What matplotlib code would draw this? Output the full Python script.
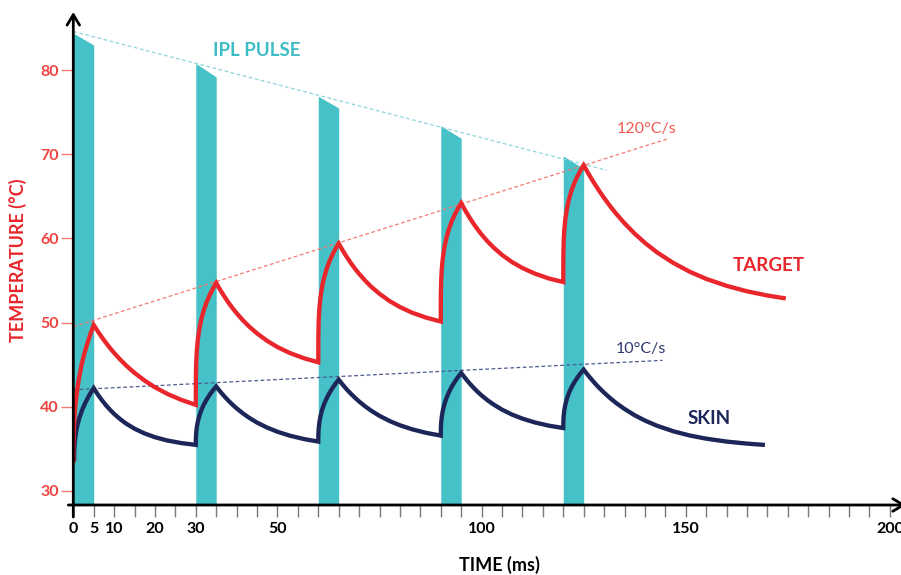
import numpy as np
import matplotlib
matplotlib.use("Agg")
import matplotlib.pyplot as plt

plt.rcParams['font.family'] = ['Lato', 'DejaVu Sans']

# ---------------- data ----------------
pulse_start = [0, 30, 60, 90, 120]
pulse_width = 5
pulse_top_left = [84.4, 80.8, 76.9, 73.4, 69.8]
pulse_top_right = [83.0, 79.2, 75.5, 71.9, 68.3]

target_t = [0, 0.02, 0.1, 0.25, 0.5, 0.9, 1.4, 2.0, 2.7, 3.5, 4.3, 5,
            6, 7, 8, 9, 10, 11.5, 13, 15, 17.5, 20, 23, 26.5, 30,
            30.02, 30.1, 30.25, 30.5, 30.9, 31.4, 32.0, 32.7, 33.5, 34.3, 35,
            36, 37, 38, 39, 40, 41.5, 43, 45, 47.5, 50, 53, 56.5, 60,
            60.02, 60.1, 60.25, 60.5, 60.9, 61.4, 62.0, 62.7, 63.5, 64.3, 65,
            66, 67, 68, 69, 70, 71.5, 73, 75, 77.5, 80, 83, 86.5, 90,
            90.02, 90.1, 90.25, 90.5, 90.9, 91.4, 92.0, 92.7, 93.5, 94.3, 95,
            96, 97, 98, 99, 100, 101.5, 103, 105, 107.5, 110, 113, 116.5, 120,
            120.02, 120.1, 120.25, 120.5, 120.9, 121.4, 122.0, 122.7, 123.5, 124.3, 125,
            126, 127, 128, 129, 130, 131.5, 133, 135, 137.5, 140, 143, 147, 151, 155,
            160, 165, 170, 174.5]
target_T = [33.3, 35.3, 37.0, 38.5, 40.1, 41.8, 43.4, 44.9, 46.3, 47.6, 48.8, 49.7,
            48.95, 48.24, 47.58, 46.96, 46.38, 45.59, 44.86, 44.01, 43.08, 42.30, 41.52, 40.79, 40.21,
            43.46, 45.25, 46.65, 47.99, 49.32, 50.48, 51.52, 52.48, 53.37, 54.12, 54.7,
            53.86, 53.09, 52.37, 51.71, 51.11, 50.28, 49.55, 48.70, 47.81, 47.08, 46.38, 45.75, 45.27,
            48.45, 50.19, 51.56, 52.86, 54.16, 55.29, 56.31, 57.24, 58.10, 58.83, 59.4,
            58.55, 57.77, 57.06, 56.39, 55.79, 54.97, 54.24, 53.41, 52.54, 51.84, 51.16, 50.57, 50.12,
            53.29, 55.02, 56.39, 57.68, 58.98, 60.10, 61.12, 62.05, 62.90, 63.64, 64.2,
            63.32, 62.51, 61.77, 61.09, 60.46, 59.62, 58.89, 58.04, 57.17, 56.48, 55.82, 55.23, 54.81,
            57.94, 59.64, 60.99, 62.27, 63.55, 64.66, 65.66, 66.57, 67.42, 68.14, 68.7,
            67.84, 67.02, 66.25, 65.51, 64.81, 63.82, 62.91, 61.80, 60.56, 59.47, 58.33, 57.07, 56.03, 55.19,
            54.36, 53.71, 53.21, 52.86]

skin_t = [0.2, 0.22, 0.30, 0.44, 0.68, 1.06, 1.54, 2.12, 2.79, 3.56, 4.33, 5.0,
          6, 7, 8, 9, 10, 11.5, 13, 15, 17.5, 20, 23, 26.5, 30,
          30.02, 30.1, 30.25, 30.5, 30.9, 31.4, 32.0, 32.7, 33.5, 34.3, 35,
          36, 37, 38, 39, 40, 41.5, 43, 45, 47.5, 50, 53, 56.5, 60,
          60.02, 60.1, 60.25, 60.5, 60.9, 61.4, 62.0, 62.7, 63.5, 64.3, 65,
          66, 67, 68, 69, 70, 71.5, 73, 75, 77.5, 80, 83, 86.5, 90,
          90.02, 90.1, 90.25, 90.5, 90.9, 91.4, 92.0, 92.7, 93.5, 94.3, 95,
          96, 97, 98, 99, 100, 101.5, 103, 105, 107.5, 110, 113, 116.5, 120,
          120.02, 120.1, 120.25, 120.5, 120.9, 121.4, 122.0, 122.7, 123.5, 124.3, 125,
          126, 127, 128, 129, 130, 131.5, 133, 135, 137.5, 140, 143, 147, 151, 155,
          160, 165, 169.4]
skin_T = [33.5, 34.46, 35.32, 36.13, 36.96, 37.88, 38.73, 39.53, 40.30, 41.04, 41.70, 42.2,
          41.44, 40.77, 40.16, 39.62, 39.13, 38.50, 37.96, 37.37, 36.80, 36.36, 35.97, 35.66, 35.45,
          36.21, 36.90, 37.55, 38.22, 38.95, 39.63, 40.27, 40.88, 41.48, 42.00, 42.4,
          41.78, 41.22, 40.70, 40.23, 39.79, 39.21, 38.69, 38.10, 37.50, 37.01, 36.55, 36.14, 35.84,
          36.65, 37.38, 38.06, 38.77, 39.55, 40.26, 40.94, 41.60, 42.22, 42.77, 43.2,
          42.59, 42.03, 41.52, 41.05, 40.61, 40.02, 39.50, 38.90, 38.28, 37.78, 37.30, 36.87, 36.55,
          37.37, 38.11, 38.80, 39.52, 40.30, 41.03, 41.71, 42.38, 43.01, 43.57, 44.0,
          43.37, 42.79, 42.26, 41.77, 41.33, 40.74, 40.23, 39.64, 39.04, 38.57, 38.12, 37.73, 37.45,
          38.21, 38.90, 39.55, 40.22, 40.95, 41.63, 42.27, 42.88, 43.48, 44.00, 44.4,
          43.77, 43.19, 42.64, 42.13, 41.66, 41.00, 40.41, 39.72, 38.97, 38.34, 37.72, 37.06, 36.56, 36.19,
          35.84, 35.60, 35.44]

pulse_trend_t = [0, 130.6]
pulse_trend_T = [84.6, 68.1]
target_trend_t = [0, 146]
target_trend_T = [49.5, 71.9]
skin_trend_t = [0, 144.3]
skin_trend_T = [42.0, 45.5]

x_ticks = list(range(0, 201, 5))
x_labeled = [0, 5, 10, 20, 30, 50, 100, 150, 200]
y_ticks = [30, 40, 50, 60, 70, 80]

# ---------------- style ----------------
TEAL = '#45C1C7'
TEAL_TXT = '#3DBDC5'
RED = '#E8262B'
RED_TICK = '#EF4440'
NAVY = '#1C2659'

W, H = 901, 575
fig = plt.figure(figsize=(W / 100, H / 100), dpi=100)
ax = fig.add_axes([73.3 / W, (H - 505) / H, (W - 73.3) / W, (505 - 12) / H])
ax.set_xlim(0, 202.72)
ax.set_ylim(28.30, 86.92)
for s in ax.spines.values():
    s.set_visible(False)

# pulses
ybot = ax.get_ylim()[0]
for s0, tl, tr in zip(pulse_start, pulse_top_left, pulse_top_right):
    ax.fill_between([s0, s0 + pulse_width], [tl, tr], ybot, color=TEAL, lw=0, zorder=1)

# trend lines
ax.plot(pulse_trend_t, pulse_trend_T, color='#8ED5DA', lw=0.9, dashes=(3, 2), zorder=2)
ax.plot(target_trend_t, target_trend_T, color='#F27A70', lw=0.9, dashes=(3, 2), zorder=2)
ax.plot(skin_trend_t, skin_trend_T, color='#4C5A90', lw=0.9, dashes=(3, 2), zorder=2)

# curves
ax.plot(skin_t, skin_T, color=NAVY, lw=3.1, solid_joinstyle='miter', solid_capstyle='butt', zorder=4)
ax.plot(target_t, target_T, color=RED, lw=3.1, solid_joinstyle='miter', solid_capstyle='butt', zorder=5)

# axes lines with arrows
arrow = dict(arrowstyle='->,head_length=0.75,head_width=0.45', lw=2, color='black',
             shrinkA=0, shrinkB=0)
ax.annotate('', xy=(0, 1), xytext=(0, -12 / 493), xycoords='axes fraction',
            arrowprops=arrow, annotation_clip=False, zorder=6)
ax.annotate('', xy=(1.006, 0), xytext=(-5 / 828, 0), xycoords='axes fraction',
            arrowprops=arrow, annotation_clip=False, zorder=6)

# ticks
ax.set_xticks(x_ticks)
ax.set_xticklabels([str(v) if v in x_labeled else '' for v in x_ticks])
ax.tick_params(axis='x', direction='out', length=8.6, width=1, color='#7a7a7a',
               pad=3.5, labelsize=11.5, labelcolor='black')
for lbl in ax.get_xticklabels():
    lbl.set_fontweight('bold')
ax.set_yticks(y_ticks)
ax.set_yticklabels([str(v) for v in y_ticks])
ax.tick_params(axis='y', direction='out', length=8.6, width=1, color='#F47A74',
               pad=2, labelsize=11.5, labelcolor=RED_TICK)
for lbl in ax.get_yticklabels():
    lbl.set_fontweight('bold')

# text labels
ax.text(45.0, 82.34, 'IPL PULSE', color=TEAL_TXT, fontsize=13.5, fontweight='bold',
        ha='center', va='center')
ax.text(170.4, 56.72, 'TARGET', color=RED, fontsize=13.5, fontweight='bold',
        ha='center', va='center')
ax.text(155.7, 38.64, 'SKIN', color=NAVY, fontsize=13.5, fontweight='bold',
        ha='center', va='center')
ax.text(140.5, 73.0, '120°C/s', color='#F0584F', fontsize=11.5, ha='center', va='center')
ax.text(139.0, 46.9, '10°C/s', color='#2E3A70', fontsize=11.5, ha='center', va='center')

fig.text(499.5 / W, 1 - 565 / H, 'TIME (ms)', color='black', fontsize=13,
         fontweight='bold', ha='center', va='center')
fig.text(17.5 / W, 1 - 260 / H, 'TEMPERATURE (°C)', color=RED, fontsize=13,
         fontweight='bold', ha='center', va='center', rotation=90)

fig.savefig('out.png', dpi=100)
